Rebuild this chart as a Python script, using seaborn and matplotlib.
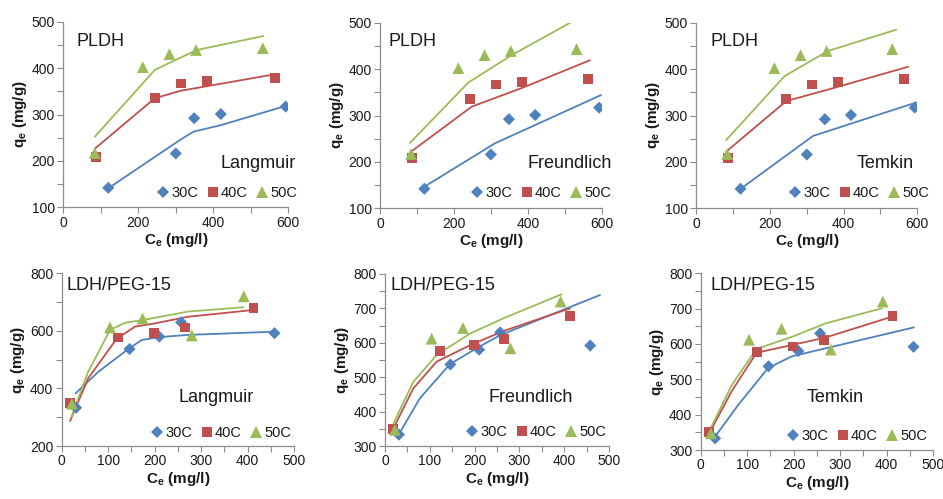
import matplotlib.pyplot as plt
import pandas as pd
import seaborn as sns
from matplotlib.ticker import MultipleLocator

W, H = 943, 499

temps = ["30C", "40C", "50C"]
palette = {"30C": "#4F81BD", "40C": "#C0504D", "50C": "#9BBB59"}
markers = {"30C": "D", "40C": "s", "50C": "^"}
msizes = {"30C": 38, "40C": 50, "50C": 72}

# -- PLDH measured points (same in all three top panels) ----------------------
pldh_x = {"30C": [120, 300, 349, 420, 593],
          "40C": [87, 244, 314, 384, 564],
          "50C": [84, 212, 283, 354, 532]}
pldh_y = {"30C": [142, 216, 292, 301, 317],
          "40C": [208, 336, 367, 373, 378],
          "50C": [217, 402, 430, 439, 443]}

# -- PLDH fitted curves -------------------------------------------------------
pldh_lang_x = {"30C": [120, 311, 347, 420, 591],
               "40C": [85, 244, 312, 383, 566],
               "50C": [84, 244, 280, 356, 533]}
pldh_lang_y = {"30C": [141, 245, 263, 277, 318],
               "40C": [227, 335, 351, 361, 387],
               "50C": [252, 396, 410, 439, 469]}
pldh_freu_x = {"30C": [117, 311, 598],
               "40C": [84, 248, 383, 568],
               "50C": [81, 239, 356, 533]}
pldh_freu_y = {"30C": [145, 240, 344],
               "40C": [222, 319, 359, 419],
               "50C": [241, 371, 430, 508]}
pldh_temk_x = {"30C": [122, 317, 597],
               "40C": [81, 244, 376, 575],
               "50C": [81, 240, 357, 543]}
pldh_temk_y = {"30C": [143, 256, 328],
               "40C": [222, 331, 360, 405],
               "50C": [247, 385, 439, 485]}

# -- LDH/PEG-15 measured points -----------------------------------------------
peg_x = {"30C": [31, 146, 210, 257, 458],
         "40C": [18, 122, 199, 266, 413],
         "50C": [22, 104, 174, 280, 392]}
peg_y = {"30C": [333, 537, 580, 630, 592],
         "40C": [350, 577, 593, 612, 679],
         "50C": [347, 612, 643, 584, 720]}

# -- LDH/PEG-15 fitted curves -------------------------------------------------
peg_lang_x = {"30C": [30, 79, 145, 172, 208, 272, 455],
              "40C": [18, 57, 118, 158, 194, 272, 409],
              "50C": [21, 57, 104, 136, 176, 272, 391]}
peg_lang_y = {"30C": [383, 458, 539, 568, 578, 586, 597],
              "40C": [287, 435, 572, 615, 624, 649, 672],
              "50C": [302, 458, 603, 628, 638, 667, 682]}
peg_freu_x = {"30C": [30, 78, 145, 212, 257, 480],
              "40C": [19, 63, 115, 190, 264, 413],
              "50C": [17, 63, 115, 190, 264, 394]}
peg_freu_y = {"30C": [332, 439, 538, 590, 622, 739],
              "40C": [352, 467, 545, 593, 634, 700],
              "50C": [360, 486, 564, 627, 671, 741]}
peg_temk_x = {"30C": [31, 81, 145, 196, 289, 459],
              "40C": [22, 67, 120, 196, 268, 411],
              "50C": [22, 67, 120, 196, 268, 390]}
peg_temk_y = {"30C": [338, 428, 532, 565, 594, 647],
              "40C": [356, 467, 575, 597, 618, 677],
              "50C": [363, 484, 586, 620, 658, 701]}


def long_form(xs, ys):
    rows = []
    for t in temps:
        for x, y in zip(xs[t], ys[t]):
            rows.append({"x": x, "y": y, "temp": t})
    return pd.DataFrame(rows)


sns.set_theme(style="white")
plt.rcParams["font.family"] = ["Liberation Sans", "DejaVu Sans"]
plt.rcParams["mathtext.fontset"] = "custom"
plt.rcParams["mathtext.rm"] = "Liberation Sans"
plt.rcParams["mathtext.bf"] = "Liberation Sans:bold"

fig = plt.figure(figsize=(W / 100, H / 100), dpi=100)

# panel rects in pixels: x0, x1, ytop, ybottom ; text anchors in pixels
panels = [
    dict(rect=(63.3, 288.3, 21.7, 207.3), pts=(pldh_x, pldh_y), fit=(pldh_lang_x, pldh_lang_y),
         name="PLDH", model="Langmuir", xlim=(0, 600, 200, 100), ylim=(100, 500, 100, 50),
         name_at=(76, 42), model_at=(296, 164), leg_at=(297, 193)),
    dict(rect=(380, 601.7, 22.7, 208.3), pts=(pldh_x, pldh_y), fit=(pldh_freu_x, pldh_freu_y),
         name="PLDH", model="Freundlich", xlim=(0, 600, 200, 100), ylim=(100, 500, 100, 50),
         name_at=(389, 42), model_at=(612, 163), leg_at=(611, 193)),
    dict(rect=(696.3, 917.3, 22.7, 208.3), pts=(pldh_x, pldh_y), fit=(pldh_temk_x, pldh_temk_y),
         name="PLDH", model="Temkin", xlim=(0, 600, 200, 100), ylim=(100, 500, 100, 50),
         name_at=(710, 42), model_at=(914, 163), leg_at=(929, 193)),
    dict(rect=(61.7, 294, 273.3, 446), pts=(peg_x, peg_y), fit=(peg_lang_x, peg_lang_y),
         name="LDH/PEG-15", model="Langmuir", xlim=(0, 500, 100, 50), ylim=(200, 800, 200, 100),
         name_at=(67, 285), model_at=(254, 398), leg_at=(291, 433)),
    dict(rect=(385, 609, 274, 446), pts=(peg_x, peg_y), fit=(peg_freu_x, peg_freu_y),
         name="LDH/PEG-15", model="Freundlich", xlim=(0, 500, 100, 50), ylim=(300, 800, 100, 50),
         name_at=(391, 285), model_at=(573, 397), leg_at=(606, 432)),
    dict(rect=(700.7, 933, 273.3, 450), pts=(peg_x, peg_y), fit=(peg_temk_x, peg_temk_y),
         name="LDH/PEG-15", model="Temkin", xlim=(0, 500, 100, 50), ylim=(300, 800, 100, 50),
         name_at=(710, 286), model_at=(864, 397), leg_at=(927, 436)),
]

axis_grey = "#8C8C8C"
text_col = "#1A1A1A"

for p in panels:
    x0, x1, yt, yb = p["rect"]
    ax = fig.add_axes([x0 / W, 1 - yb / H, (x1 - x0) / W, (yb - yt) / H])

    fit_df = long_form(*p["fit"])
    sns.lineplot(data=fit_df, x="x", y="y", hue="temp", palette=palette, sort=False,
                 estimator=None, legend=False, linewidth=1.3, ax=ax)
    pts_df = long_form(*p["pts"])
    sns.scatterplot(data=pts_df, x="x", y="y", hue="temp", style="temp", size="temp",
                    palette=palette, markers=markers, sizes=msizes, linewidth=0,
                    ax=ax, zorder=3)

    lo, hi, maj, mnr = p["xlim"]
    ax.set_xlim(lo, hi)
    ax.xaxis.set_major_locator(MultipleLocator(maj))
    ax.xaxis.set_minor_locator(MultipleLocator(mnr))
    lo, hi, maj, mnr = p["ylim"]
    ax.set_ylim(lo, hi)
    ax.yaxis.set_major_locator(MultipleLocator(maj))
    ax.yaxis.set_minor_locator(MultipleLocator(mnr))

    for side in ("top", "right"):
        ax.spines[side].set_visible(False)
    for side in ("left", "bottom"):
        ax.spines[side].set_color(axis_grey)
        ax.spines[side].set_linewidth(0.9)
    ax.tick_params(which="both", direction="out", color=axis_grey, width=0.8,
                   labelsize=10, labelcolor=text_col, pad=2, length=4,
                   bottom=True, left=True)

    ax.set_xlabel(r"$\mathbf{C_e}$ (mg/l)", fontsize=11, fontweight="bold", color=text_col, labelpad=1)
    ax.set_ylabel(r"$\mathbf{q_e}$ (mg/g)", fontsize=11, fontweight="bold", color=text_col, labelpad=2)

    nx, ny = p["name_at"]
    fig.text(nx / W, 1 - ny / H, p["name"], fontsize=13, color=text_col, ha="left", va="center")
    mx, my = p["model_at"]
    fig.text(mx / W, 1 - my / H, p["model"], fontsize=13, color=text_col, ha="right", va="center")

    lx, ly = p["leg_at"]
    ax.legend(title=None, loc="center right", bbox_to_anchor=(lx / W, 1 - ly / H),
              bbox_transform=fig.transFigure, ncol=3, frameon=False, fontsize=10.5,
              handletextpad=0.0, columnspacing=0.45, handlelength=1.1, borderpad=0,
              borderaxespad=0, markerscale=1.0, labelcolor=text_col)

fig.savefig("out.png", dpi=100)
